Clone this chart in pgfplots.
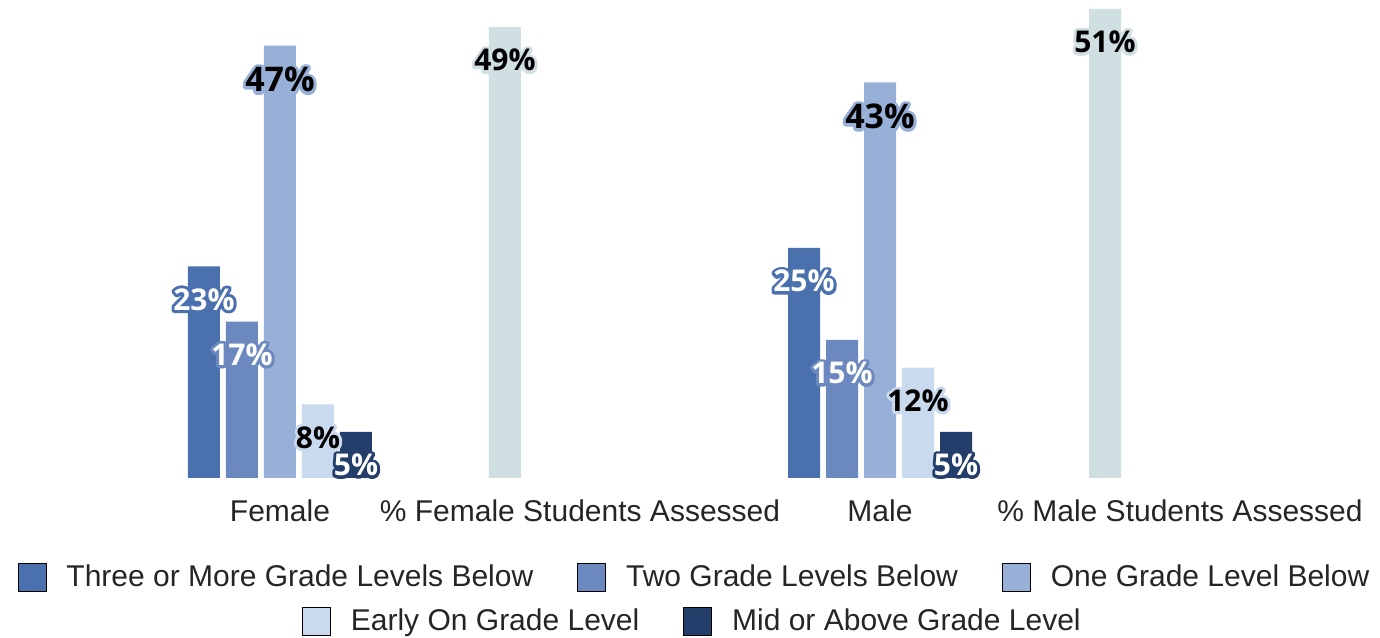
\documentclass[border=0pt]{standalone}
\usepackage{pgfplots}
\pgfplotsset{compat=1.18}
\usepackage{fontspec}
\setmainfont{Liberation Sans}
\newfontfamily\lblfont{Open Sans}
\definecolor{c1}{HTML}{4A70AE}
\definecolor{c2}{HTML}{6C89BF}
\definecolor{c3}{HTML}{98AFD7}
\definecolor{c4}{HTML}{C9D9EE}
\definecolor{c5}{HTML}{243E6B}
\definecolor{ca}{HTML}{D0DFE1}
\definecolor{txt}{HTML}{252525}
% halo: stroked copy (text render mode 1) in bar colour, then filled text on top
\newcommand\halo[3]{\rlap{\special{pdf:literal direct 1 Tr 3 w 1 j #1 RG}#3\special{pdf:literal direct 0 Tr 0.4 w}}\textcolor{#2}{#3}}
\newcommand\val{\pgfmathprintnumber{\pgfplotspointmeta}\%}
\pgfplotsset{
  sq legend/.style={legend image code/.code={\fill[##1] (0pt,-7pt) rectangle (14pt,7pt);}},
  lab/.style={every node near coord/.append style={anchor=center, yshift=-16.5pt, font=\lblfont\bfseries\fontsize{15}{18}\selectfont, inner sep=0pt}},
  labbig/.style={every node near coord/.append style={anchor=center, yshift=-17pt, font=\lblfont\bfseries\fontsize{17}{20}\selectfont, inner sep=0pt}},
  /pgf/number format/assume math mode=true,
}
\begin{document}
\begin{tikzpicture}
\path[use as bounding box] (0,0) rectangle (690pt,318.5pt);
\begin{axis}[
  scale only axis, width=690pt, height=239.2pt,
  at={(0pt,79.5pt)}, anchor=south west,
  xmin=-0.9333, xmax=3.6667, ymin=0, ymax=52,
  ybar, bar width=16pt,
  axis line style={draw=none},
  ytick=\empty,
  xtick={0,1,2,3},
  xticklabels={Female,\% Female Students Assessed,Male,\% Male Students Assessed},
  xtick style={draw=none},
  xticklabel style={anchor=base, yshift=-17.5pt, font=\fontsize{15}{18}\selectfont, text=txt},
  clip=false,
  nodes near coords,
]
\addplot[fill=c1, draw=none, bar shift=-38pt, lab, nodes near coords={\halo{0.290 0.439 0.682}{white}{\val}}] coordinates {(0,23) (2,25)};
\addplot[fill=c2, draw=none, bar shift=-19pt, lab, nodes near coords={\halo{0.424 0.537 0.749}{white}{\val}}] coordinates {(0,17) (2,15)};
\addplot[fill=c3, draw=none, bar shift=0pt, labbig, nodes near coords={\halo{0.596 0.686 0.843}{black}{\val}}] coordinates {(0,47) (2,43)};
\addplot[fill=c4, draw=none, bar shift=19pt, lab, nodes near coords={\halo{0.788 0.851 0.933}{black}{\val}}] coordinates {(0,8) (2,12)};
\addplot[fill=c5, draw=none, bar shift=38pt, lab, nodes near coords={\halo{0.141 0.243 0.420}{white}{\val}}] coordinates {(0,5) (2,5)};
\addplot[fill=ca, draw=none, bar shift=-37.5pt, lab, nodes near coords={\halo{0.816 0.875 0.882}{black}{\val}}] coordinates {(1,49) (3,51)};
\end{axis}
\begin{axis}[
  scale only axis, width=690pt, height=318.5pt, at={(0pt,0pt)}, anchor=south west,
  hide axis, xmin=0, xmax=1, ymin=0, ymax=1, sq legend,
  legend columns=3,
  legend style={at={(0.5025,0.0942)}, anchor=center, draw=none, fill=none, inner sep=0pt,
    font=\fontsize{15}{18}\selectfont, text=txt, nodes={inner sep=0pt},
    /tikz/every odd column/.append style={column sep=10pt},
    /tikz/every even column/.append style={column sep=22pt}},
]
\addlegendimage{fill=c1}\addlegendentry{Three or More Grade Levels Below}
\addlegendimage{fill=c2}\addlegendentry{Two Grade Levels Below}
\addlegendimage{fill=c3}\addlegendentry{One Grade Level Below}
\end{axis}
\begin{axis}[
  scale only axis, width=690pt, height=318.5pt, at={(0pt,0pt)}, anchor=south west,
  hide axis, xmin=0, xmax=1, ymin=0, ymax=1, sq legend,
  legend columns=2,
  legend style={at={(0.501,0.0251)}, anchor=center, draw=none, fill=none, inner sep=0pt,
    font=\fontsize{15}{18}\selectfont, text=txt, nodes={inner sep=0pt},
    /tikz/every odd column/.append style={column sep=10pt},
    /tikz/every even column/.append style={column sep=22pt}},
]
\addlegendimage{fill=c4}\addlegendentry{Early On Grade Level}
\addlegendimage{fill=c5}\addlegendentry{Mid or Above Grade Level}
\end{axis}
\end{tikzpicture}
\end{document}
